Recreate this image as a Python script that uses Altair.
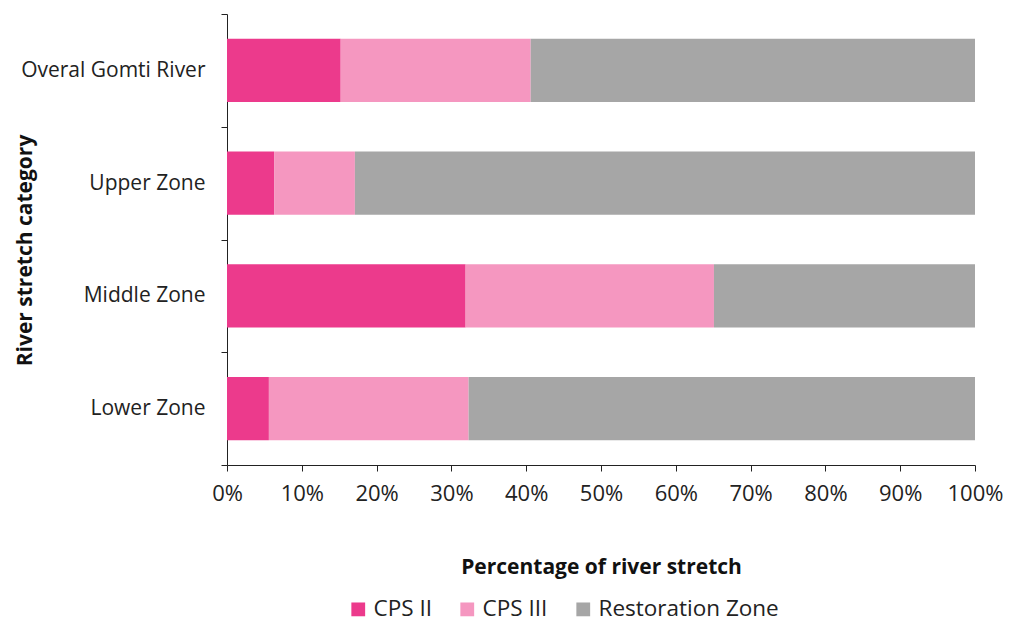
import altair as alt
import pandas as pd

categories = ["Overal Gomti River", "Upper Zone", "Middle Zone", "Lower Zone"]
series = ["CPS II", "CPS III", "Restoration Zone"]
cps2 = [15.2, 6.3, 31.9, 5.6]
cps3 = [25.4, 10.8, 33.2, 26.7]
restoration = [59.4, 82.9, 34.9, 67.7]
colors = ["#ec3a8c", "#f597c0", "#a6a6a6"]
x_ticks = [0, 0.1, 0.2, 0.3, 0.4, 0.5, 0.6, 0.7, 0.8, 0.9, 1.0]

rows = []
for i, c in enumerate(categories):
    for j, (s, vals) in enumerate(zip(series, [cps2, cps3, restoration])):
        rows.append({"category": c, "series": s, "value": vals[i], "order": j})
df = pd.DataFrame(rows)

FONT = "Open Sans"

chart = alt.Chart(df).mark_bar(height=alt.RelativeBandSize(0.56)).encode(
    x=alt.X("value:Q", stack="normalize",
            scale=alt.Scale(domain=[0, 1], nice=False),
            axis=alt.Axis(values=x_ticks, format=".0%", title="Percentage of river stretch",
                          grid=False, domainColor="#222", tickColor="#222", tickSize=6,
                          labelFlush=False, labelOverlap=False,
                          labelFontSize=22, labelColor="#222", labelPadding=12, labelFont=FONT,
                          titleFont=FONT, titleFontSize=21, titleFontWeight="bold", titleColor="#111",
                          titleY=102, titleBaseline="middle")),
    y=alt.Y("category:N", sort=categories,
            scale=alt.Scale(paddingInner=0, paddingOuter=0),
            axis=alt.Axis(title="River stretch category", tickBand="extent", grid=False,
                          domainColor="#222", tickColor="#222", tickSize=6,
                          labelFontSize=21, labelColor="#222", labelPadding=16, labelFont=FONT,
                          labelLimit=300,
                          titleFont=FONT, titleFontSize=21, titleFontWeight="bold", titleColor="#111",
                          titleAngle=-90, titleX=-196, titleY=236, titleBaseline="alphabetic")),
    color=alt.Color("series:N", sort=series,
                    scale=alt.Scale(domain=series, range=colors),
                    legend=alt.Legend(title=None, orient="none", direction="horizontal",
                                      legendX=120, legendY=584, symbolType="square",
                                      symbolSize=190, symbolStrokeWidth=0, labelFontSize=22.5,
                                      labelFont=FONT, labelColor="#222", columnPadding=24,
                                      labelOffset=4, labelLimit=400)),
    order=alt.Order("order:Q"),
).properties(
    width=748, height=451,
    autosize=alt.AutoSizeParams(type="none"),
    padding={"left": 219, "top": 6, "right": 28, "bottom": 158},
).configure(background="white").configure_view(stroke=None)

chart.save("out.html", embed_options={"renderer": "svg", "actions": False})
